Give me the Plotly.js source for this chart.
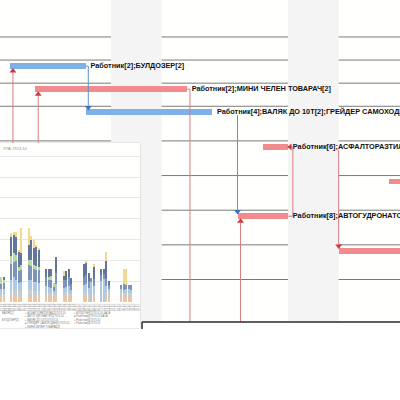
<!DOCTYPE html>
<html><head><meta charset="utf-8">
<script src="https://cdn.plot.ly/plotly-3.0.1.min.js"></script>
<style>html,body{margin:0;padding:0;background:#fff}</style>
</head><body><div id="chart" style="width:400px;height:400px"></div>
<script>
// ---------------- Gantt data ----------------
const taskLabels = ['Работник[2];БУЛДОЗЕР[2]','Работник[2];МИНИ ЧЕЛЕН ТОВАРАЧ[2]','Работник[4];ВАЛЯК ДО 10Т[2];ГРЕЙДЕР САМОХОДЕН[2]','Работник[6];АСФАЛТОРАЗТИЛАЧ[2]','','Работник[8];АВТОГУДРОНАТОР[2]',''];
const taskStart = [1, 2, 4, 11, 16, 10, 14];
const taskEnd   = [4, 8, 9, 12, 18, 12, 18];
const taskRow   = [1, 2, 3, 4, 5, 6, 7];
const taskCritical = [false, true, false, true, true, true, true];
const rowHeights = [1, 1, 1, 1.5, 1.5, 1.5, 1.5, 1.5];
const weekendStart = [5, 12];
const weekendDays = 2;
// links (task indices)
const fsFrom = [0, 2, 3], fsTo = [2, 5, 6];
const ffFrom = [5], ffTo = [3];
const extPredTo = [0, 1, 5];
const extSuccFrom = [1];

// ---------------- Inset chart data ----------------
const insetDates = ['01.06','02.06','03.06','04.06','05.06','06.06','07.06','08.06','09.06','10.06','11.06','12.06','13.06','14.06','15.06','16.06','17.06','18.06','19.06','20.06','21.06','22.06','23.06','24.06','25.06','26.06','27.06','28.06','29.06','30.06','01.07','02.07','03.07','04.07','05.07','06.07','07.07','08.07','09.07','10.07','11.07','12.07','13.07','14.07','15.07','16.07','17.07','18.07','19.07','20.07','21.07','22.07','23.07','24.07','25.07','26.07'];
const serOrange = [1.2,1.2,0,0,1.2,1.4,1.2,1.0,1.2,0,0,1.4,1.2,1.2,1.2,1.2,0,0,1.2,1.0,1.2,1.0,1.2,0,0,1.2,1.2,1.2,1.0,0,0,0,0,1.2,1.2,1.0,0,1.0,0,0,0,0,1.2,1.2,0,0,0,0,1.0,1.2,1.2,1.0,1.0,0,0,0];
const serGray   = [1.0,0.8,0,0,1.5,1.6,2.0,1.5,1.6,0,0,1.8,1.6,1.4,1.5,1.4,0,0,1.2,1.4,1.0,1.0,1.2,0,0,1.0,1.2,1.2,1.0,0,0,0,0,1.4,1.6,1.2,0,1.2,0,0,0,0,1.2,1.4,0,0,0,0,1.3,1.0,1.2,1.2,1.1,0,0,0];
const serLight  = [1.0,1.2,0,0,2.5,3.0,2.2,2.0,2.0,0,0,2.2,2.4,2.2,2.0,2.0,0,0,1.5,1.2,1.2,0.6,2.0,0,0,1.2,1.2,1.5,1.0,0,0,0,0,1.5,1.6,1.2,4.8,1.6,0,0,5.0,5.5,1.4,0.6,0,0,0,0,0.8,0.8,0.7,0.9,0.8,0,0,0];
const serSlate  = [1.2,1.4,0,0,4.0,3.6,4.4,3.0,3.0,0,0,3.6,3.4,3.2,3.0,3.0,0,0,2.0,1.8,2.0,1.0,2.6,0,0,1.8,1.8,2.0,1.4,0,0,0,0,2.0,2.2,1.6,1.0,1.8,0,0,1.4,1.2,2.0,1.0,0,0,0,0,1.0,1.4,1.0,1.0,1.2,0,0,0];
const serGreen  = [1.6,0.8,0,0,1.8,2.2,1.6,1.0,1.0,0,0,1.2,1.6,1.0,1.0,0.8,0,0,0,0.5,0.8,1.0,0,0,0,0,0,0,0,0,0,0,0,0,0,0,0,0,0,0,0,0,0,0,0,0,0,0,0,0,0,0,0,0,0,0];
const serDark   = [0,0.6,0,0,4.6,4.2,4.2,3.5,3.0,0,0,3.6,4.6,3.9,4.5,4.0,0,0,2.0,2.0,1.7,0,3.8,0,0,1.0,2.0,2.0,1.4,0,0,0,0,3.0,2.8,2.0,0,2.7,0,0,1.5,1.2,4.0,0.8,0,0,0,0,0,0,0,0,0,0,0,0];
const serYellow = [0,0,0,0,1.0,0.8,1.2,0.5,6.0,0,0,4.0,1.0,2.0,0.5,0.6,0,0,0,0,0,0,0,0,0,1.2,0,0,0,0,0,0,0,0,0.4,0,0,0.8,0,0,0,0,2.2,0,0,0,0,0,0,3.5,3.8,0,0,0,0,0];
const insetTitle = 'ЛТА: ПОЗ.10';
const legendCol0 = ['ВАЛЯК[2]','','БУЛДОЗЕР[2]'];
const legendCol1 = ['АСФАЛТОРАЗТИЛАЧ[2] ПОЗ.10','АВТОГУДРОНАТОР[2] ПОЗ.10','ВАЛЯК ДО 10Т[2] ПОЗ.10','ГРЕЙДЕР САМОХОДЕН[2] ПОЗ.10','МИНИ ЧЕЛЕН ТОВАРАЧ[2]'];
const legendCol2 = ['БУЛДОЗЕР[2] ПОЗ.10 ЧАСА','Работник[8] ПОЗ.10 ЧАСА','Работник[6] ПОЗ.10','Работник[4] ПОЗ.10'];

// ---------------- styles ----------------
const BLUE='#7eb1e7', RED='#f28b8d', BLUE_LINK='#5b92d0', RED_LINK='#dc7c80', BLUE_HEAD='#3c72b8', RED_HEAD='#cc3b40';
const X_RANGE=[0.609, 16.425], Y_RANGE=[12.34, -1.60];
const BAR_OFF=0.26, BAR_W=0.25, HALF=0.125;
const LABEL_FONT={family:'Liberation Sans, Arial, sans-serif', size:7.3, color:'#111111', weight:'bold'};

const rowTop=[0];
rowHeights.forEach((h,i)=>rowTop.push(rowTop[i]+h));
const yc = taskRow.map(r=>rowTop[r]+BAR_OFF);
const topOf = i=>yc[i]-HALF, botOf = i=>yc[i]+HALF;

const traces=[];
// bars
traces.push({type:'bar', orientation:'h', y:yc, base:taskStart, x:taskStart.map((s,i)=>taskEnd[i]-s),
  width:BAR_W, marker:{color:taskCritical.map(c=>c?RED:BLUE), line:{width:0}},
  xaxis:'x', yaxis:'y', hoverinfo:'skip'});

// link lines
const lines={b:{x:[],y:[]}, r:{x:[],y:[]}};
const heads={b:{x:[],y:[],s:[]}, r:{x:[],y:[],s:[]}};
function add(col, pts){ pts.forEach(p=>{lines[col].x.push(p[0]); lines[col].y.push(p[1]);}); lines[col].x.push(null); lines[col].y.push(null); }
function head(col,x,y,s){ heads[col].x.push(x); heads[col].y.push(y); heads[col].s.push(s); }
fsFrom.forEach((p,k)=>{
  const s=fsTo[k]; const col=taskCritical[p]?'r':'b';
  const xl=Math.max(taskEnd[p]+0.1, taskStart[s]);
  if(xl-taskEnd[p]<0.3) add(col,[[taskEnd[p],yc[p]],[xl,yc[p]],[xl,topOf(s)]]);
  else add(col,[[xl,botOf(p)],[xl,topOf(s)]]);
  head(col,xl,topOf(s)-0.08,'triangle-down');
});
ffFrom.forEach((p,k)=>{
  const s=ffTo[k]; const col=taskCritical[p]?'r':'b';
  const xl=Math.max(taskEnd[p],taskEnd[s])+0.19;
  add(col,[[taskEnd[p],yc[p]],[xl,yc[p]],[xl,yc[s]],[taskEnd[s]+0.05,yc[s]]]);
  head(col,taskEnd[s]+0.08,yc[s],'triangle-left');
});
extPredTo.forEach(s=>{
  const xl=taskStart[s]+0.12;
  add('r',[[xl,Y_RANGE[0]],[xl,botOf(s)]]);
  head('r',xl,botOf(s)+0.09,'triangle-up');
});
extSuccFrom.forEach(p=>{
  const xl=taskEnd[p]+0.12; const col=taskCritical[p]?'r':'b';
  add(col,[[taskEnd[p],yc[p]],[xl,yc[p]],[xl,Y_RANGE[0]]]);
});
['r','b'].forEach(c=>{
  traces.push({type:'scatter', mode:'lines', x:lines[c].x, y:lines[c].y, line:{color:c==='r'?RED_LINK:BLUE_LINK, width:1}, xaxis:'x', yaxis:'y', hoverinfo:'skip', connectgaps:false});
  traces.push({type:'scatter', mode:'markers', x:heads[c].x, y:heads[c].y, marker:{symbol:heads[c].s, size:6, color:c==='r'?RED_HEAD:BLUE_HEAD, line:{width:0}}, xaxis:'x', yaxis:'y', hoverinfo:'skip'});
});
// task labels at bar ends
traces.push({type:'scatter', mode:'markers+text', x:taskEnd, y:yc, text:taskLabels, textposition:'middle right', textfont:LABEL_FONT,
  marker:{size:6, opacity:0}, cliponaxis:false, xaxis:'x', yaxis:'y', hoverinfo:'skip'});

// inset stacked bars
const insetSeries=[[serOrange,'#f2c49c'],[serGray,'#cbcbcb'],[serLight,'#acc9e6'],[serSlate,'#7d93b8'],[serGreen,'#bad8a2'],[serDark,'#61769a'],[serYellow,'#f1d98f']];
insetSeries.forEach(([vals,col])=>{
  traces.push({type:'bar', x:insetDates, y:vals, width:0.75, marker:{color:col, line:{width:0}}, xaxis:'x2', yaxis:'y2', hoverinfo:'skip'});
});

// shapes
const shapes=[];
rowTop.forEach(t=>shapes.push({type:'line', xref:'x domain', yref:'y', x0:0, x1:1, y0:t, y1:t, line:{color:'#7a7a7a', width:1}, layer:'below'}));
weekendStart.forEach(w=>shapes.push({type:'rect', xref:'x', yref:'y domain', x0:w, x1:w+weekendDays, y0:0, y1:1, fillcolor:'#f4f4f4', line:{width:0}, layer:'below'}));
shapes.push({type:'line', xref:'paper', yref:'paper', x0:0.355, x1:1, y0:0.195, y1:0.195, line:{color:'#2a2a2a', width:1.5}, layer:'above'});
shapes.push({type:'line', xref:'paper', yref:'paper', x0:0.355, x1:0.355, y0:0.195, y1:0.1775, line:{color:'#2a2a2a', width:1.5}, layer:'above'});
shapes.push({type:'rect', xref:'x2 domain', yref:'y2 domain', x0:0, x1:1, y0:0, y1:1, line:{color:'#d4d4d4', width:1}, fillcolor:'rgba(0,0,0,0)', layer:'below'});

const sw=(c)=>'<span style="color:'+c+'">■</span> ';
const legendColors=['#f2c49c','#f1d98f','#bad8a2','#7d93b8','#acc9e6'];
const annotations=[
  {xref:'paper', yref:'paper', x:0.002, y:0.641, xanchor:'left', yanchor:'top', showarrow:false, text:insetTitle, font:{family:'Liberation Sans, sans-serif', size:4, color:'#888'}},
  {xref:'paper', yref:'paper', x:0.0, y:0.228, xanchor:'left', yanchor:'top', align:'left', showarrow:false, text:legendCol0.join('<br>'), font:{family:'Liberation Sans, sans-serif', size:2.6, color:'#777'}},
  {xref:'paper', yref:'paper', x:0.0575, y:0.228, xanchor:'left', yanchor:'top', align:'left', showarrow:false, text:legendCol1.map((t,i)=>sw(legendColors[i])+t).join('<br>'), font:{family:'Liberation Sans, sans-serif', size:2.6, color:'#777'}},
  {xref:'paper', yref:'paper', x:0.18, y:0.228, xanchor:'left', yanchor:'top', align:'left', showarrow:false, text:legendCol2.map((t,i)=>sw(legendColors[(i+2)%5])+t).join('<br>'), font:{family:'Liberation Sans, sans-serif', size:2.6, color:'#777'}}
];

const layout={
  width:400, height:400, margin:{l:0,r:0,t:0,b:0},
  paper_bgcolor:'#ffffff', plot_bgcolor:'#fffffe',
  showlegend:false, hovermode:false, barmode:'stack', bargap:0.2,
  xaxis:{domain:[0,1], range:X_RANGE, visible:false, fixedrange:true},
  yaxis:{domain:[0.195,1], range:Y_RANGE, visible:false, fixedrange:true},
  xaxis2:{domain:[0,0.35], anchor:'free', position:0.245, type:'category', range:[-0.5,55.5], showgrid:false, zeroline:false, showline:false, ticks:'', tickmode:'array', tickvals:insetDates, ticktext:insetDates, tickangle:-90, tickfont:{family:'Liberation Sans, sans-serif', size:3, color:'#9a9a9a'}},
  yaxis2:{domain:[0.18,0.6425], anchor:'x2', range:[-6.24,38.17], tickmode:'array', tickvals:[5,10,15,20,25,30,35], showticklabels:false, showgrid:true, gridcolor:'#e6e6e6', gridwidth:1, zeroline:false, showline:false, ticks:''},
  shapes:shapes, annotations:annotations
};
Plotly.newPlot('chart', traces, layout, {staticPlot:true, displayModeBar:false});
</script></body></html>
